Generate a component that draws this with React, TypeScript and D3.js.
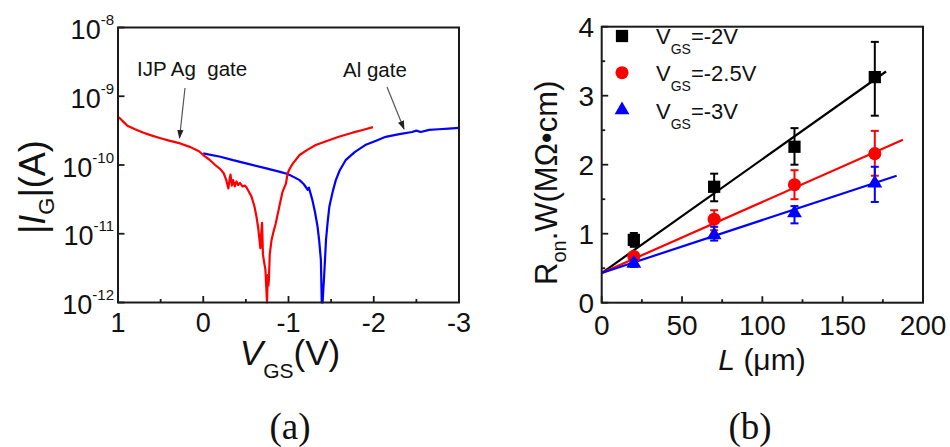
import React from "react";
import * as d3 from "d3";

// ---------- Panel (a): gate leakage ----------
const agV = [1.0, 0.97, 0.93, 0.89, 0.8, 0.7, 0.62, 0.5, 0.4, 0.27, 0.15, 0.05, 0.0, -0.07, -0.14, -0.2, -0.24, -0.27, -0.295, -0.31, -0.32, -0.335, -0.35, -0.37, -0.39, -0.41, -0.43, -0.46, -0.49, -0.51, -0.54, -0.566, -0.6, -0.624, -0.645, -0.66, -0.67, -0.68, -0.69, -0.7, -0.715, -0.729, -0.74, -0.748, -0.757, -0.765, -0.77, -0.78, -0.8, -0.82, -0.85, -0.876, -0.9, -0.93, -0.95, -0.97, -0.99, -1.02, -1.05, -1.13, -1.22, -1.32, -1.45, -1.59, -1.75, -1.87, -1.99];
const agLogI = [-9.3, -9.33, -9.38, -9.43, -9.48, -9.53, -9.565, -9.61, -9.645, -9.686, -9.74, -9.8, -9.855, -9.92, -10.0, -10.06, -10.12, -10.22, -10.34, -10.2, -10.14, -10.3, -10.22, -10.31, -10.24, -10.29, -10.26, -10.31, -10.3, -10.33, -10.4, -10.46, -10.6, -10.75, -10.92, -11.09, -11.21, -11.0, -10.84, -11.3, -11.42, -11.52, -11.8, -12.0, -11.6, -11.75, -11.67, -11.3, -11.1, -10.99, -10.85, -10.7, -10.56, -10.39, -10.33, -10.27, -10.12, -10.04, -9.98, -9.855, -9.78, -9.71, -9.65, -9.59, -9.53, -9.49, -9.45];

const alV = [0.0, -0.2, -0.35, -0.55, -0.74, -0.9, -0.99, -1.07, -1.13, -1.18, -1.225, -1.24, -1.26, -1.28, -1.31, -1.34, -1.36, -1.38, -1.39, -1.4, -1.42, -1.44, -1.46, -1.48, -1.52, -1.555, -1.6, -1.67, -1.78, -1.9, -2.02, -2.14, -2.3, -2.45, -2.5, -2.55, -2.65, -2.76, -2.88, -3.0];
const alLogI = [-9.83, -9.88, -9.93, -9.99, -10.05, -10.1, -10.13, -10.18, -10.22, -10.28, -10.36, -10.33, -10.42, -10.51, -10.68, -10.89, -11.1, -11.38, -12.0, -12.0, -11.57, -11.09, -10.82, -10.6, -10.38, -10.22, -10.08, -9.93, -9.81, -9.71, -9.65, -9.59, -9.55, -9.52, -9.5, -9.52, -9.49, -9.48, -9.47, -9.46];

const leftXTicks = [1, 0, -1, -2, -3];
const leftXMinor = [0.5, -0.5, -1.5, -2.5];
const leftYExps = [-8, -9, -10, -11, -12];

// ---------- Panel (b): Ron*W vs L ----------
const lengths = [20, 70, 120, 170];
const seriesNames = ["-2V", "-2.5V", "-3V"];
const seriesColors = ["#000000", "#ff0000", "#0000ff"];
const seriesSymbols = [d3.symbolSquare, d3.symbolCircle, d3.symbolTriangle];
const ronW = [
  [0.91, 1.68, 2.26, 3.27],
  [0.67, 1.21, 1.71, 2.16],
  [0.57, 0.98, 1.3, 1.73],
];
const ronWLow = [
  [0.81, 1.47, 2.0, 2.71],
  [0.61, 1.05, 1.5, 1.84],
  [0.52, 0.9, 1.15, 1.46],
];
const ronWHigh = [
  [1.01, 1.87, 2.53, 3.78],
  [0.73, 1.34, 1.92, 2.49],
  [0.62, 1.1, 1.4, 1.97],
];
const fitIntercept = [0.43, 0.43, 0.43];
const fitSlope = [0.0165, 0.0103, 0.00768];
const fitEnd = [177, 187.5, 183.6];
const rightXTicks = [0, 50, 100, 150, 200];
const rightXMinor = [25, 75, 125, 175];
const rightYTicks = [0, 1, 2, 3, 4];
const rightYMinor = [0.5, 1.5, 2.5, 3.5];

const FONT = "'Liberation Sans', Arial, Helvetica, sans-serif";
const AXIS = "#1a1a1a";

export default function App() {
  // left scales
  const xL = d3.scaleLinear().domain([1, -3]).range([118, 459]);
  const yL = d3.scaleLog().domain([1e-12, 1e-8]).range([302.5, 27.5]);
  // right scales
  const xR = d3.scaleLinear().domain([0, 200]).range([601.7, 923]);
  const yR = d3.scaleLinear().domain([0, 4]).range([302.7, 26.7]);

  const curve = d3
    .line<[number, number]>()
    .x((d) => xL(d[0]))
    .y((d) => yL(Math.pow(10, d[1])));

  const agPts: [number, number][] = agV.map((v, i) => [v, agLogI[i]]);
  const alPts: [number, number][] = alV.map((v, i) => [v, alLogI[i]]);

  const symSize = [150, 135, 95];

  return (
    <svg
      width={950}
      height={447}
      style={{ position: "fixed", left: 0, top: 0, background: "#fff" }}
      fontFamily={FONT}
    >
      <defs>
        <marker id="arr" viewBox="0 0 10 10" refX="9" refY="5" markerWidth="9" markerHeight="9" orient="auto" markerUnits="userSpaceOnUse">
          <path d="M0,1.5 L10,5 L0,8.5 Z" fill="#222" />
        </marker>
      </defs>

      {/* ---------------- Panel (a) ---------------- */}
      <g>
        <path d={curve(alPts) || ""} fill="none" stroke="#0000ff" strokeWidth={2.2} strokeLinejoin="round" />
        <path d={curve(agPts) || ""} fill="none" stroke="#ff0000" strokeWidth={2.2} strokeLinejoin="round" />

        {/* ticks */}
        {leftXTicks.map((t) => (
          <line key={"lx" + t} x1={xL(t)} x2={xL(t)} y1={302.5} y2={296} stroke={AXIS} strokeWidth={1.8} />
        ))}
        {leftXMinor.map((t) => (
          <line key={"lxm" + t} x1={xL(t)} x2={xL(t)} y1={302.5} y2={299} stroke={AXIS} strokeWidth={1.8} />
        ))}
        {leftYExps.map((e) => (
          <line key={"ly" + e} x1={118} x2={124.5} y1={yL(Math.pow(10, e))} y2={yL(Math.pow(10, e))} stroke={AXIS} strokeWidth={1.8} />
        ))}
        <rect x={118} y={27.5} width={341} height={275} fill="none" stroke={AXIS} strokeWidth={2} />

        {/* tick labels */}
        {leftXTicks.map((t) => (
          <text key={"lxl" + t} x={xL(t)} y={332} textAnchor="middle" fontSize={27} fill="#111">
            {t === 0 ? "0" : t > 0 ? String(t) : "-" + Math.abs(t)}
          </text>
        ))}
        {leftYExps.map((e) => (
          <text key={"lyl" + e} x={114} y={yL(Math.pow(10, e)) + 11.5} textAnchor="end" fontSize={27} fill="#111">
            10
            <tspan dy={-14} fontSize={15}>{String(e)}</tspan>
          </text>
        ))}

        {/* axis titles */}
        <text transform="translate(45,234) rotate(-90)" fontSize={36} fill="#111">
          |<tspan fontStyle="italic">I</tspan>
          <tspan dy={9} fontSize={22}>G</tspan>
          <tspan dy={-9}>|(A)</tspan>
        </text>
        <text x={290} y={365} textAnchor="middle" fontSize={35} fill="#111">
          <tspan fontStyle="italic">V</tspan>
          <tspan dy={13} fontSize={21}>GS</tspan>
          <tspan dy={-13}>(V)</tspan>
        </text>

        {/* annotations */}
        <text x={137} y={76} fontSize={20.5} fill="#111" style={{ whiteSpace: "pre" }}>
          {"IJP Ag  gate"}
        </text>
        <line x1={185} y1={88} x2={179.5} y2={138} stroke="#555" strokeWidth={1.2} markerEnd="url(#arr)" />
        <text x={343} y={77} fontSize={20.5} fill="#111">
          Al gate
        </text>
        <line x1={387} y1={87} x2={404} y2={129} stroke="#555" strokeWidth={1.2} markerEnd="url(#arr)" />
      </g>

      {/* ---------------- Panel (b) ---------------- */}
      <g>
        {/* fit lines */}
        {fitSlope.map((s, i) => (
          <line
            key={"fit" + i}
            x1={xR(0)}
            y1={yR(fitIntercept[i])}
            x2={xR(fitEnd[i])}
            y2={yR(fitIntercept[i] + s * fitEnd[i])}
            stroke={seriesColors[i]}
            strokeWidth={2.2}
          />
        ))}
        {/* error bars & markers */}
        {ronW.map((vals, i) =>
          vals.map((v, j) => {
            const x = xR(lengths[j]);
            return (
              <g key={"pt" + i + "-" + j}>
                <line x1={x} x2={x} y1={yR(ronWLow[i][j])} y2={yR(ronWHigh[i][j])} stroke={seriesColors[i]} strokeWidth={2} />
                <line x1={x - 4} x2={x + 4} y1={yR(ronWLow[i][j])} y2={yR(ronWLow[i][j])} stroke={seriesColors[i]} strokeWidth={2} />
                <line x1={x - 4} x2={x + 4} y1={yR(ronWHigh[i][j])} y2={yR(ronWHigh[i][j])} stroke={seriesColors[i]} strokeWidth={2} />
                <path
                  transform={`translate(${x},${yR(v)})`}
                  d={d3.symbol().type(seriesSymbols[i]).size(symSize[i])() || ""}
                  fill={seriesColors[i]}
                />
              </g>
            );
          })
        )}

        {/* ticks */}
        {rightXTicks.map((t) => (
          <line key={"rx" + t} x1={xR(t)} x2={xR(t)} y1={302.7} y2={296.2} stroke={AXIS} strokeWidth={1.8} />
        ))}
        {rightXMinor.map((t) => (
          <line key={"rxm" + t} x1={xR(t)} x2={xR(t)} y1={302.7} y2={299.2} stroke={AXIS} strokeWidth={1.8} />
        ))}
        {rightYTicks.map((t) => (
          <line key={"ry" + t} x1={601.7} x2={608.2} y1={yR(t)} y2={yR(t)} stroke={AXIS} strokeWidth={1.8} />
        ))}
        {rightYMinor.map((t) => (
          <line key={"rym" + t} x1={601.7} x2={605.2} y1={yR(t)} y2={yR(t)} stroke={AXIS} strokeWidth={1.8} />
        ))}
        <rect x={601.7} y={26.7} width={321.3} height={276} fill="none" stroke={AXIS} strokeWidth={2} />

        {rightXTicks.map((t) => (
          <text key={"rxl" + t} x={xR(t)} y={335} textAnchor="middle" fontSize={28} fill="#111">
            {String(t)}
          </text>
        ))}
        {rightYTicks.map((t) => (
          <text key={"ryl" + t} x={594} y={yR(t) + 10} textAnchor="end" fontSize={28} fill="#111">
            {String(t)}
          </text>
        ))}

        {/* axis titles */}
        <text transform="translate(557,285) rotate(-90)" fontSize={31} fill="#111">
          R<tspan dy={9} fontSize={20}>on</tspan>
          <tspan dy={-9}>.W(MΩ•cm)</tspan>
        </text>
        <text x={762} y={370} textAnchor="middle" fontSize={30} fill="#111">
          <tspan fontStyle="italic">L</tspan> (μm)
        </text>

        {/* legend */}
        {seriesNames.map((n, i) => {
          const cy = [36, 72.7, 110][i];
          const by = [43.5, 81, 118.5][i];
          return (
            <g key={"leg" + i}>
              <path
                transform={`translate(622,${cy})`}
                d={d3.symbol().type(seriesSymbols[i]).size(symSize[i])() || ""}
                fill={seriesColors[i]}
              />
              <text x={656} y={by} fontSize={22} fill="#111">
                V<tspan dy={10} fontSize={14}>GS</tspan>
                <tspan dy={-10}>={n}</tspan>
              </text>
            </g>
          );
        })}
      </g>

      {/* panel labels */}
      <text x={290} y={439} textAnchor="middle" fontSize={37} fontFamily="'Liberation Serif', 'Times New Roman', serif" fill="#111">
        (a)
      </text>
      <text x={750} y={439} textAnchor="middle" fontSize={37} fontFamily="'Liberation Serif', 'Times New Roman', serif" fill="#111">
        (b)
      </text>
    </svg>
  );
}
